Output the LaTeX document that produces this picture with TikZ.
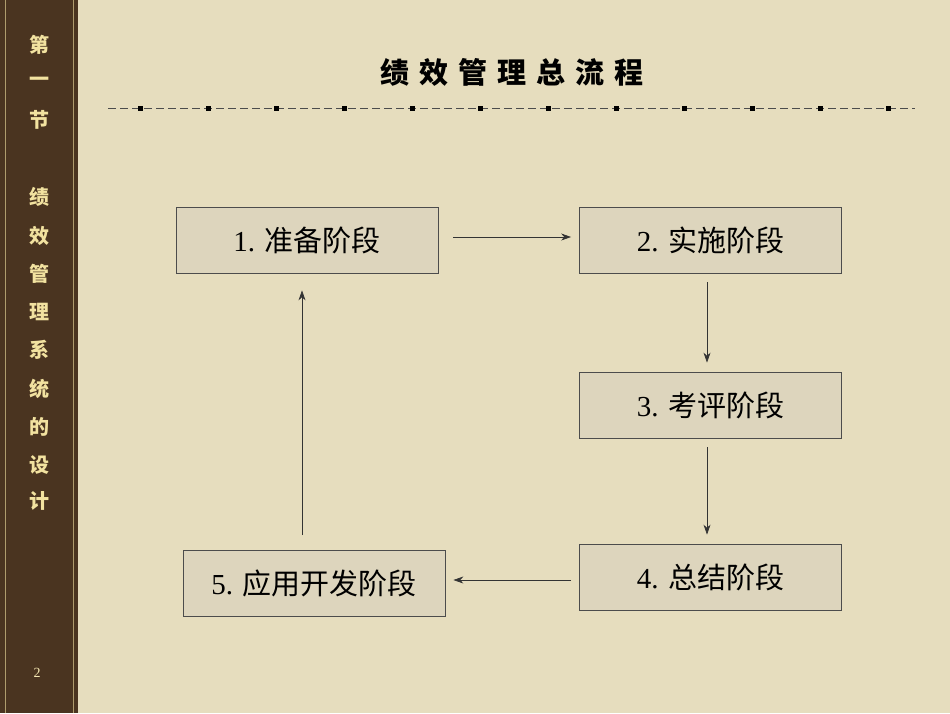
\documentclass[tikz,border=0pt]{standalone}
\usepackage{fontspec}
\setmainfont{Liberation Serif}
\newfontfamily\cjk{Noto Sans CJK SC}
\usetikzlibrary{arrows.meta}
\definecolor{bg}{HTML}{E6DDBE}
\definecolor{boxfill}{HTML}{DDD5BD}
\definecolor{bar}{HTML}{4A3420}
\definecolor{gold}{HTML}{F2E2A0}
\tikzset{
  stage/.style={draw=black!70, line width=0.8pt, fill=boxfill, minimum width=262pt, minimum height=66pt, inner sep=0pt, font=\fontsize{29}{31}\selectfont},
  flow/.style={-{Stealth[length=10pt,width=7pt]}, line width=0.7pt, black!80},
  side/.style={text=gold, font=\cjk\bfseries\fontsize{20}{22}\selectfont},
}
\begin{document}
\begin{tikzpicture}[x=1pt,y=-1pt]
\fill[bg] (0,0) rectangle (950,713);
\useasboundingbox (0,0) rectangle (950,713);
\fill[bar] (0,0) rectangle (78,713);
\draw[gold!60!bar, line width=1pt] (5,0) -- (5,713) (73,0) -- (73,713);
\foreach \c/\y [count=\i] in {第/45,一/82,节/120,绩/197,效/236,管/274,理/312,系/350,统/389,的/427,设/465,计/501}
  \node[side] (s\i) at (39,\y) {\c};
\node[text=gold!80, font=\fontsize{14}{16}\selectfont] (pg) at (37,673) {2};
\node[font=\cjk\bfseries\fontsize{29}{31}\selectfont] (title) at (512,72) {绩\hspace{10pt}效\hspace{10pt}管\hspace{10pt}理\hspace{10pt}总\hspace{10pt}流\hspace{10pt}程};
\draw[black!70, line width=0.8pt, dash pattern=on 8pt off 4pt] (108,108) -- (915,108);
\foreach \x in {140,208,...,900}
  \fill[black] (\x-2.5,105.5) rectangle (\x+2.5,110.5);
\node[stage] (b1) at (307,240) {1. {\cjk 准备阶段}};
\node[stage] (b2) at (710.5,240) {2. {\cjk 实施阶段}};
\node[stage] (b3) at (710.5,405) {3. {\cjk 考评阶段}};
\node[stage] (b4) at (710.5,577) {4. {\cjk 总结阶段}};
\node[stage] (b5) at (314,583.5) {5. {\cjk 应用开发阶段}};
\draw[flow, shorten <=15pt, shorten >=8pt] (b1.east |- 0,237) -- (b2.west |- 0,237);
\draw[flow, shorten <=9pt, shorten >=9pt] (b2.south -| 707,0) -- (b3.north -| 707,0);
\draw[flow, shorten <=9pt, shorten >=9pt] (b3.south -| 707,0) -- (b4.north -| 707,0);
\draw[flow, shorten <=8pt, shorten >=8pt] (b4.west |- 0,580) -- (b5.east |- 0,580);
\draw[flow, shorten <=15pt, shorten >=17pt] (b5.north -| 302,0) -- (b1.south -| 302,0);
\end{tikzpicture}
\end{document}
